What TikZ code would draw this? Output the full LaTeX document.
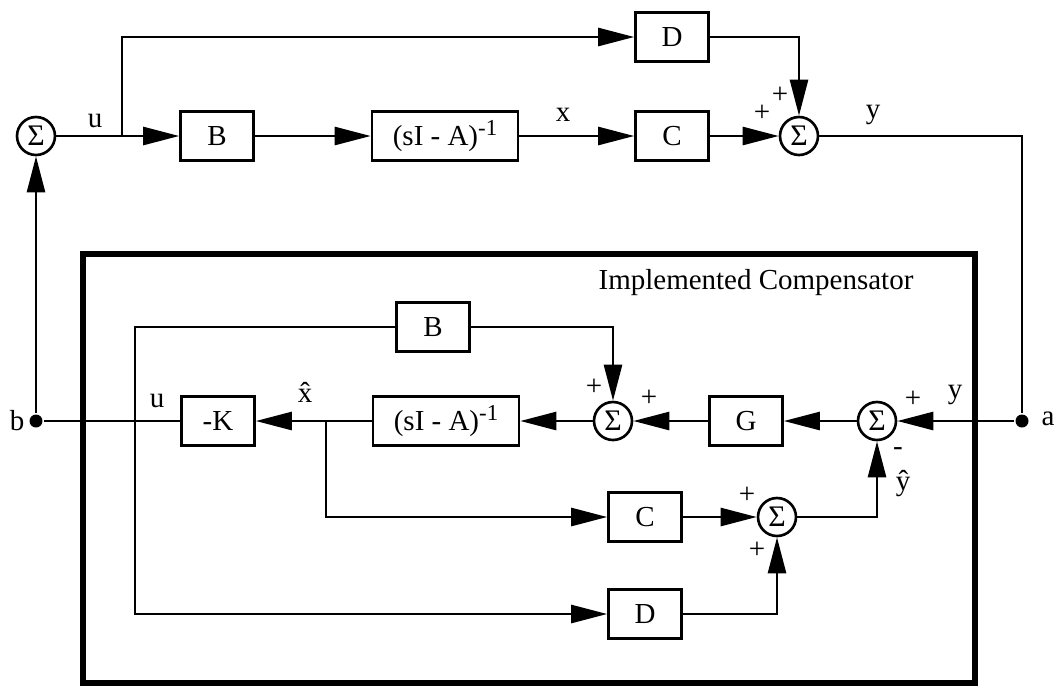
\documentclass[tikz,border=0pt]{standalone}
\usepackage{fontspec}
\setmainfont{Liberation Serif}
\usetikzlibrary{arrows.meta}
\newcommand{\invsup}{\raisebox{5.5pt}{\fontsize{13}{13}\selectfont -1}}
\begin{document}
\begin{tikzpicture}[
    x=0.02cm,y=-0.02cm,line width=1.5pt,
    every node/.style={font=\fontsize{16.5}{18}\selectfont},
    blk/.style={draw,line width=1.5pt,inner sep=0pt,minimum width=1.46cm,minimum height=0.98cm},
    sumnode/.style={draw,circle,line width=1.5pt,inner sep=0pt,minimum size=0.76cm,
        font=\fontsize{17}{17}\selectfont},
    sig/.style={-{Triangle[length=0.72cm,width=0.36cm]}},
    jdot/.style={circle,fill,inner sep=0pt,minimum size=0.26cm}]
    \def\ytop{136}
    \def\ymid{421}
    \useasboundingbox (0,0) rectangle (1057,687);

    % plant
    \node[sumnode] (sL) at (36,\ytop) {Σ};
    \node[blk] (B) at (217,\ytop) {B};
    \node[blk,minimum width=2.92cm] (P) at (445,\ytop) {(sI - A)\invsup};
    \node[blk] (C) at (672,\ytop) {C};
    \node[blk] (D) at (672,37) {D};
    \node[sumnode] (sT) at (799,\ytop) {Σ};
    \coordinate (u0) at (122,\ytop);
    \node[jdot] (a) at (1022,\ymid) {};
    \node[jdot] (b) at (36,\ymid) {};

    % compensator
    \draw[line width=3.2pt] (83,254) rectangle (975,683);
    \node (title) at (756,283) {Implemented Compensator};
    \node[blk] (Bi) at (433,327) {B};
    \node[sumnode] (sI) at (613,\ymid) {Σ};
    \node[blk] (G) at (746,\ymid) {G};
    \node[sumnode] (sR) at (877,\ymid) {Σ};
    \node[blk] (K) at (218,\ymid) {-K};
    \node[blk,minimum width=2.92cm] (Pi) at (446,\ymid) {(sI - A)\invsup};
    \node[blk] (Ci) at (645,517) {C};
    \node[sumnode] (sC) at (777,517) {Σ};
    \node[blk] (Di) at (645,614) {D};
    \coordinate (ui) at (135,\ymid);
    \coordinate (xh) at (326,\ymid);

    % plant signals
    \draw[sig] (b) -- (sL);
    \draw (sL) -- (u0);
    \draw[sig] (u0) -- (B);
    \draw[sig] (u0) |- (D);
    \draw[sig] (B) -- (P);
    \draw[sig] (P) -- (C);
    \draw[sig] (C) -- (sT);
    \draw[sig] (D) -| (sT);
    \draw (sT) -| (a);

    % compensator signals
    \draw[sig] (a) -- (sR);
    \draw[sig] (sR) -- (G);
    \draw[sig] (G) -- (sI);
    \draw[sig] (sI) -- (Pi);
    \draw[sig] (Pi) -- (K);
    \draw (K) -- (b);
    \draw (ui) |- (Bi);
    \draw[sig] (ui) |- (Di);
    \draw[sig] (Bi) -| (sI);
    \draw[sig] (xh) |- (Ci);
    \draw[sig] (Ci) -- (sC);
    \draw[sig] (Di) -| (sC);
    \draw[sig] (sC) -| (sR);

    % labels
    \node (lu) at (95,121) {u};
    \node (lx) at (563,115) {x};
    \node (ly) at (873,115) {y};
    \node (pT1) at (780,95) {+};
    \node (pT2) at (762,113) {+};
    \node (pI1) at (594,387) {+};
    \node (pI2) at (649,398) {+};
    \node (pR) at (913,399) {+};
    \node (lyi) at (955,395) {y};
    \node (mR) at (898,452) {-};
    \node (lyh) at (903,484) {\^{y}};
    \node (pC1) at (747,495) {+};
    \node (pC2) at (757,550) {+};
    \node (lui) at (157,401) {u};
    \node (lxh) at (305,392) {\^{x}};
    \node (lb) at (17,421) {b};
    \node (la) at (1048,419) {a};
\end{tikzpicture}
\end{document}
